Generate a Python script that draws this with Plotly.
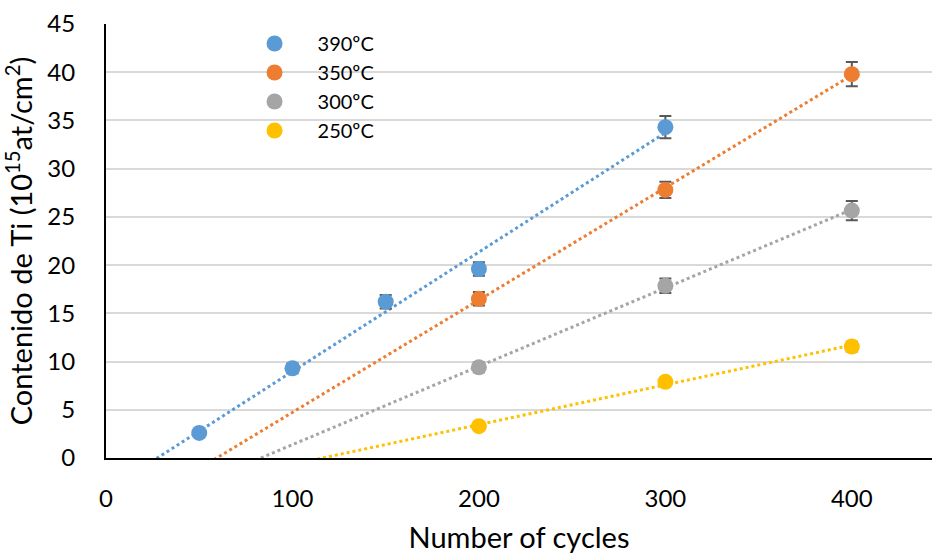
import numpy as np
import plotly.graph_objects as go

# Data
names = ["390ºC", "350ºC", "300ºC", "250ºC"]
colors = ["#5B9BD5", "#ED7D31", "#A5A5A5", "#FFC000"]
x390 = [50, 100, 150, 200, 300]
y390 = [2.6, 9.3, 16.2, 19.6, 34.3]
e390 = [0.3, 0.5, 0.7, 0.7, 1.15]
x350 = [200, 300, 400]
y350 = [16.5, 27.8, 39.8]
e350 = [0.7, 0.85, 1.25]
x300 = [200, 300, 400]
y300 = [9.4, 17.85, 25.65]
e300 = [0.5, 0.75, 1.0]
x250 = [200, 300, 400]
y250 = [3.3, 7.9, 11.55]
e250 = [0.3, 0.3, 0.5]

series = [(x390, y390, e390), (x350, y350, e350), (x300, y300, e300), (x250, y250, e250)]

FONT = "Lato"
fig = go.Figure()

# linear trendlines (least squares fit), clipped by the axis at y=0
for (xs, ys, es), c in zip(series, colors):
    k, b = np.polyfit(xs, ys, 1)
    xt = np.array([0, max(xs)])
    fig.add_trace(go.Scatter(x=xt, y=k * xt + b, mode="lines", showlegend=False,
                             line=dict(color=c, width=3, dash="dot"), hoverinfo="skip"))

for (xs, ys, es), c, n in zip(series, colors, names):
    fig.add_trace(go.Scatter(x=xs, y=ys, mode="markers", name=n,
                             marker=dict(color=c, size=16),
                             error_y=dict(type="data", array=es, visible=True,
                                          color="#595959", thickness=2, width=6)))

fig.update_layout(
    width=932, height=554,
    margin=dict(l=106, r=0, t=24, b=96),
    plot_bgcolor="white", paper_bgcolor="white",
    font=dict(family=FONT, size=22, color="black"),
    legend=dict(x=0.152, y=1.0, xanchor="left", yanchor="top",
                bgcolor="rgba(0,0,0,0)", font=dict(size=20), itemwidth=76),
    xaxis=dict(range=[0, 443], tickvals=[0, 100, 200, 300, 400], showgrid=False,
               showline=True, linecolor="black", linewidth=2, zeroline=False,
               ticks="", tickfont=dict(size=24), ticklabelstandoff=18,
               title=dict(text="Number of cycles", font=dict(size=29), standoff=18)),
    yaxis=dict(range=[0, 45], tickvals=list(range(0, 46, 5)), showgrid=True,
               gridcolor="#D9D9D9", gridwidth=1.5, showline=True, linecolor="black",
               linewidth=2, zeroline=False, ticks="", tickfont=dict(size=24),
               ticklabelstandoff=24,
               title=dict(text="Contenido de Ti (10<sup>15</sup>at/cm<sup>2</sup>)",
                          font=dict(size=29), standoff=8)),
)

fig.write_html("out.html")
